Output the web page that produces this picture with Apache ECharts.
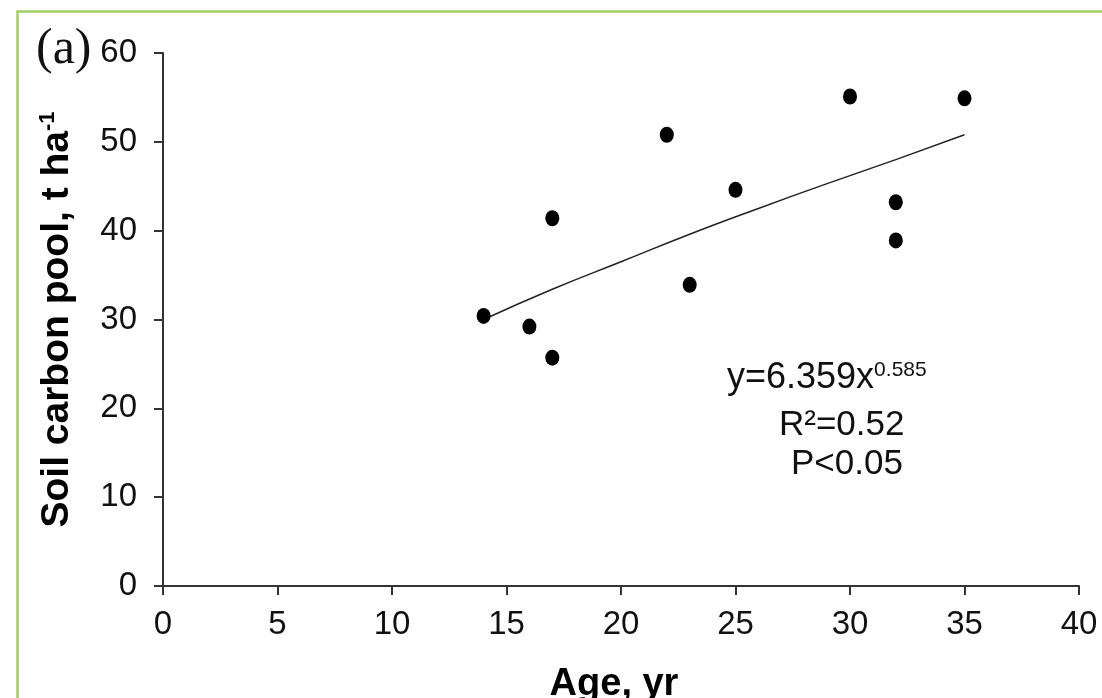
<!DOCTYPE html>
<html>
<head>
<meta charset="utf-8">
<script src="https://cdn.jsdelivr.net/npm/echarts@6/dist/echarts.min.js"></script>
<style>
  html, body { margin: 0; padding: 0; background: #fff; }
  #chart { width: 1102px; height: 698px; }
</style>
</head>
<body>
<div id="chart"></div>
<script>
var chartDom = document.getElementById('chart');
var myChart = echarts.init(chartDom);
var option;

// observed points
var ages = [14, 16, 17, 17, 22, 23, 25, 30, 32, 32, 35];
var carbon = [30.4, 29.2, 25.7, 41.4, 50.8, 33.9, 44.6, 55.1, 43.2, 38.9, 54.9];

// fitted curve
var fitAges = [14, 17, 20, 23, 26, 29, 32, 35];
var fitCarbon = [30.0, 33.4, 36.5, 39.6, 42.5, 45.3, 48.0, 50.8];

var xTicks = [0, 5, 10, 15, 20, 25, 30, 35, 40];
var yTicks = [0, 10, 20, 30, 40, 50, 60];

var font = '"Liberation Sans", Arial, sans-serif';

option = {
  animation: false,
  grid: {
    left: 163,
    right: 23,
    top: 53,
    bottom: 112,
    outerBoundsMode: 'none'
  },
  xAxis: {
    type: 'value',
    min: xTicks[0],
    max: xTicks[xTicks.length - 1],
    interval: 5,
    name: 'Age, yr',
    nameLocation: 'middle',
    nameGap: 80,
    nameTextStyle: { fontFamily: font, fontSize: 38, fontWeight: 'bold', color: '#000', padding: [0, 14, 0, 0] },
    axisLine: { lineStyle: { color: '#333', width: 2 } },
    axisTick: { inside: false, length: 9, lineStyle: { color: '#333', width: 2 } },
    axisLabel: { margin: 22, fontFamily: font, fontSize: 33, color: '#111' },
    splitLine: { show: false }
  },
  yAxis: {
    type: 'value',
    min: yTicks[0],
    max: yTicks[yTicks.length - 1],
    interval: 10,
    name: 'Soil carbon pool, t ha{sup|-1}',
    nameLocation: 'middle',
    nameGap: 86,
    nameRotate: 90,
    nameTextStyle: {
      fontFamily: font, fontSize: 39, fontWeight: 'bold', color: '#000',
      rich: {
        sup: { fontFamily: font, fontSize: 22, fontWeight: 'bold', color: '#000', verticalAlign: 'top', padding: [0, 0, 18, 0] }
      }
    },
    axisLine: { show: true, lineStyle: { color: '#333', width: 2 } },
    axisTick: { show: true, inside: false, length: 9, lineStyle: { color: '#333', width: 2 } },
    axisLabel: { margin: 26, fontFamily: font, fontSize: 33, color: '#111' },
    splitLine: { show: false }
  },
  graphic: [
    {
      type: 'rect',
      left: 15,
      top: 9,
      shape: { width: 1200, height: 800 },
      style: { fill: 'none', stroke: '#a3cd66', lineWidth: 2.5 },
      silent: true
    },
    {
      type: 'text',
      left: 36,
      top: 25,
      style: { text: '(a)', fontFamily: '"Liberation Serif", "Times New Roman", serif', fontSize: 50, fill: '#111' }
    },
    {
      type: 'text',
      left: 727,
      top: 360,
      style: {
        text: 'y=6.359x{sup|0.585}',
        fontFamily: font, fontSize: 36, fill: '#111',
        rich: {
          sup: { fontFamily: font, fontSize: 21, fill: '#111', padding: [0, 0, 16, 0] }
        }
      }
    },
    {
      type: 'text',
      left: 779,
      top: 408,
      style: { text: 'R²=0.52', fontFamily: font, fontSize: 35, fill: '#111' }
    },
    {
      type: 'text',
      left: 791,
      top: 447,
      style: { text: 'P<0.05', fontFamily: font, fontSize: 35, fill: '#111' }
    }
  ],
  series: [
    {
      name: 'fit',
      type: 'line',
      data: fitAges.map(function (a, i) { return [a, fitCarbon[i]]; }),
      smooth: true,
      showSymbol: false,
      lineStyle: { color: '#222', width: 1.5 },
      z: 1
    },
    {
      name: 'observed',
      type: 'scatter',
      data: ages.map(function (a, i) { return [a, carbon[i]]; }),
      symbolSize: [14, 16],
      itemStyle: { color: '#000', opacity: 1 },
      z: 2
    }
  ]
};

option && myChart.setOption(option);
</script>
</body>
</html>
